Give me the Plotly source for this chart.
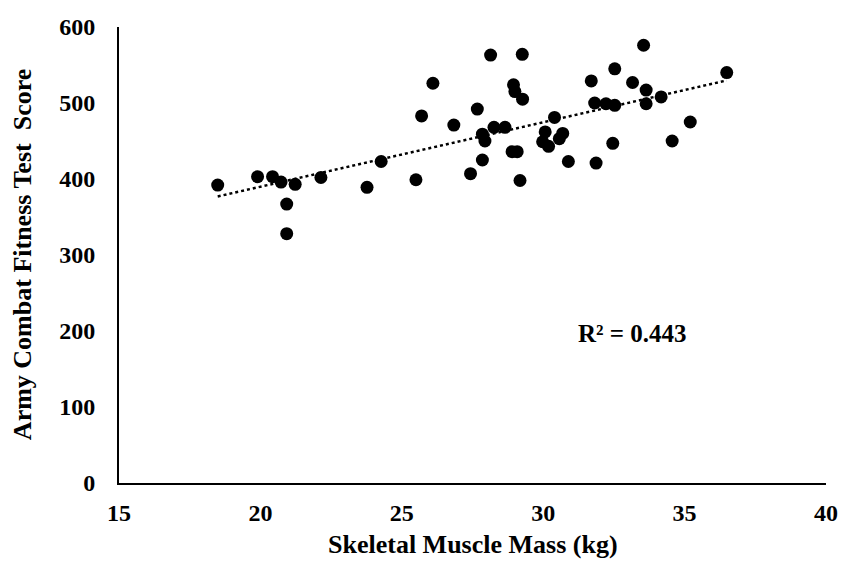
import numpy as np
import plotly.graph_objects as go

muscle_mass = [18.49, 19.9, 20.43, 20.73, 20.93, 20.93, 21.23, 22.14, 23.77, 24.27,
               25.5, 25.7, 26.1, 26.84, 27.43, 27.67, 27.85, 27.94, 27.85, 28.14,
               28.26, 28.65, 28.9, 29.08, 28.95, 29.0, 29.27, 29.26, 29.18, 30.07,
               29.98, 30.19, 30.4, 30.69, 30.57, 30.89, 31.7, 31.82, 31.87, 32.22,
               32.53, 32.53, 32.46, 33.16, 33.55, 33.64, 33.64, 34.17, 34.56, 35.2,
               36.49]
acft_score = [392, 403, 403, 396, 367, 328, 393, 402, 389, 423,
              399, 483, 526, 471, 407, 492, 459, 450, 425, 563,
              468, 468, 436, 436, 524, 515, 505, 564, 398, 462,
              449, 443, 481, 460, 453, 423, 529, 500, 421, 499,
              497, 545, 447, 527, 576, 517, 499, 508, 450, 475,
              540]
x_ticks = [15, 20, 25, 30, 35, 40]
y_ticks = [0, 100, 200, 300, 400, 500, 600]
r2_label = "R² = 0.443"
x_title = "Skeletal Muscle Mass (kg)"
y_title = "Army Combat Fitness Test  Score"

xa = np.array(muscle_mass)
ya = np.array(acft_score)
slope, intercept = np.polyfit(xa, ya, 1)
trend_x = [xa.min(), xa.max()]
trend_y = [slope * v + intercept for v in trend_x]

font_family = "Liberation Serif, Times New Roman, serif"

fig = go.Figure()
fig.add_trace(go.Scatter(
    x=trend_x, y=trend_y, mode="lines",
    line=dict(color="black", width=2.5, dash="dot"),
    hoverinfo="skip", showlegend=False))
fig.add_trace(go.Scatter(
    x=muscle_mass, y=acft_score, mode="markers",
    marker=dict(color="black", size=13),
    showlegend=False))

fig.add_annotation(x=33.16, y=197, text="<b>" + r2_label + "</b>", showarrow=False,
                   font=dict(family=font_family, size=25, color="black"))
fig.add_annotation(x=0.5, y=-0.134, xref="paper", yref="paper",
                   text="<b>" + x_title + "</b>", showarrow=False,
                   xanchor="center", yanchor="middle",
                   font=dict(family=font_family, size=26, color="black"))
fig.add_annotation(x=-0.137, y=0.5, xref="paper", yref="paper",
                   text="<b>" + y_title + "</b>", showarrow=False, textangle=-90,
                   xanchor="center", yanchor="middle",
                   font=dict(family=font_family, size=26, color="black"))

fig.update_layout(
    width=854, height=561,
    margin=dict(l=111, r=36, t=19, b=86),
    paper_bgcolor="white", plot_bgcolor="white",
    font=dict(family=font_family, color="black"),
)
fig.update_xaxes(
    range=[15, 40], tickvals=x_ticks, ticktext=[f"<b>{v}</b>" for v in x_ticks],
    showgrid=False, zeroline=False, showline=True, linecolor="black", linewidth=2,
    ticks="", ticklabelstandoff=7, automargin=False,
    tickfont=dict(family=font_family, size=24, color="black"),
)
fig.update_yaxes(
    range=[0, 600], tickvals=y_ticks, ticktext=[f"<b>{v}</b>" for v in y_ticks],
    showgrid=False, zeroline=False, showline=True, linecolor="black", linewidth=2,
    ticks="", ticklabelstandoff=17, automargin=False,
    tickfont=dict(family=font_family, size=24, color="black"),
)

fig.write_html("out.html")
